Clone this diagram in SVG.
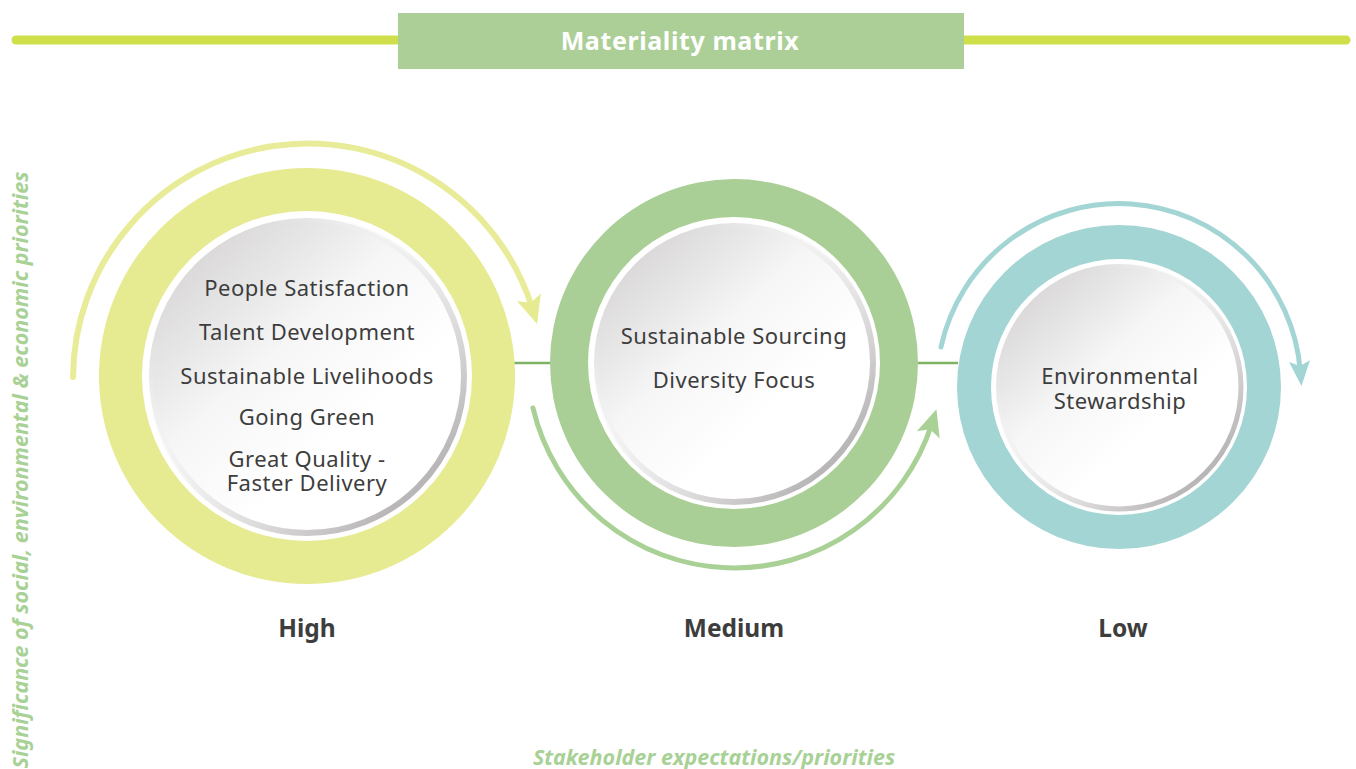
<svg xmlns="http://www.w3.org/2000/svg" width="1356" height="769" viewBox="0 0 1356 769">
<defs>
<style>
.item{font-family:"Noto Sans","Open Sans","Liberation Sans",sans-serif;font-size:22px;letter-spacing:0.5px;fill:#3d3d3d;text-anchor:middle}
.lvl{font-family:"Noto Sans","Open Sans","Liberation Sans",sans-serif;font-size:24.5px;font-weight:bold;fill:#3d3d3d;text-anchor:middle}
.axis{font-family:"Noto Sans","Open Sans","Liberation Sans",sans-serif;font-size:21.5px;font-weight:bold;font-style:italic;fill:#a8d196;text-anchor:middle}
.arc{fill:none}
.link{stroke:#7db363;stroke-width:2.5}
</style>
<linearGradient id="disk" x1="0.15" y1="0.1" x2="0.65" y2="0.65">
<stop offset="0" stop-color="#d9d7d8"/>
<stop offset="0.55" stop-color="#f6f6f6"/>
<stop offset="1" stop-color="#ffffff"/>
</linearGradient>
<linearGradient id="rim" x1="0.2" y1="0.2" x2="0.85" y2="0.85">
<stop offset="0" stop-color="#ffffff" stop-opacity="0"/>
<stop offset="0.5" stop-color="#e2e0e1" stop-opacity="0.6"/>
<stop offset="1" stop-color="#b9b6b7"/>
</linearGradient>
<marker id="ahY" markerUnits="userSpaceOnUse" viewBox="-14 -14 32 28" markerWidth="32" markerHeight="28" refX="0" refY="0" orient="auto">
<path d="M16,0 L-12,-12.5 L-6,0 L-12,12.5 Z" fill="#e6eb91"/>
</marker>
<marker id="ahG" markerUnits="userSpaceOnUse" viewBox="-14 -14 32 28" markerWidth="32" markerHeight="28" refX="0" refY="0" orient="auto">
<path d="M15,0 L-12,-12 L-6,0 L-12,12 Z" fill="#a9d095"/>
</marker>
<marker id="ahT" markerUnits="userSpaceOnUse" viewBox="-14 -14 32 28" markerWidth="32" markerHeight="28" refX="0" refY="0" orient="auto">
<path d="M15,0 L-10,-10.5 L-5,0 L-10,10.5 Z" fill="#a3d5d4"/>
</marker>
</defs>
<rect width="1356" height="769" fill="#ffffff"/>

<g id="title">
<line x1="16" y1="40" x2="1346" y2="40" stroke="#cfdf4a" stroke-width="9" stroke-linecap="round"/>
<rect x="398" y="13" width="566" height="56" fill="#abcf97"/>
<text x="680" y="50" font-family="'Noto Sans','Open Sans','Liberation Sans',sans-serif" font-size="25" letter-spacing="0.6" font-weight="bold" fill="#ffffff" text-anchor="middle">Materiality matrix</text>
</g>

<g id="connectors">
<line class="link" x1="514" y1="363" x2="552" y2="363"/>
<line class="link" x1="917" y1="363" x2="958" y2="363"/>
<path class="arc" d="M73,377 A235,235 0 0 1 532.4,308.7" stroke="#e8ec98" stroke-width="6" stroke-linecap="round" marker-end="url(#ahY)"/>
<path class="arc" d="M533,408 A207,207 0 0 0 931.9,423.5" stroke="#a9d095" stroke-width="5" stroke-linecap="round" marker-end="url(#ahG)"/>
<path class="arc" d="M941,347 A182,182 0 0 1 1300.3,371.1" stroke="#a3d5d4" stroke-width="5" stroke-linecap="round" marker-end="url(#ahT)"/>
</g>

<g id="node-high">
<circle cx="307" cy="376" r="208" fill="#e6eb91"/>
<circle cx="307" cy="376" r="165" fill="#ffffff"/>
<circle cx="307" cy="376" r="158" fill="url(#disk)"/>
<circle cx="307" cy="376" r="157" fill="none" stroke="url(#rim)" stroke-width="6"/>
<text class="item" x="307" y="296">People Satisfaction</text>
<text class="item" x="307" y="340">Talent Development</text>
<text class="item" x="307" y="384">Sustainable Livelihoods</text>
<text class="item" x="307" y="425">Going Green</text>
<text class="item" x="307" y="467">Great Quality -<tspan x="307" dy="24">Faster Delivery</tspan></text>
<text class="lvl" x="307" y="637">High</text>
</g>

<g id="node-medium">
<circle cx="734" cy="363" r="184" fill="#aacf96"/>
<circle cx="734" cy="363" r="146" fill="#ffffff"/>
<circle cx="734" cy="363" r="140" fill="url(#disk)"/>
<circle cx="734" cy="363" r="139" fill="none" stroke="url(#rim)" stroke-width="6"/>
<text class="item" x="734" y="344">Sustainable Sourcing</text>
<text class="item" x="734" y="388">Diversity Focus</text>
<text class="lvl" x="734" y="637">Medium</text>
</g>

<g id="node-low">
<circle cx="1119" cy="387" r="162" fill="#a3d5d4"/>
<circle cx="1119" cy="387" r="128" fill="#ffffff"/>
<circle cx="1119" cy="387" r="123" fill="url(#disk)"/>
<circle cx="1119" cy="387" r="122" fill="none" stroke="url(#rim)" stroke-width="5"/>
<text class="item" x="1120" y="384">Environmental<tspan x="1120" dy="25">Stewardship</tspan></text>
<text class="lvl" x="1123" y="637">Low</text>
</g>

<g id="axes">
<text class="axis" transform="translate(28,470) rotate(-90)">Significance of social, environmental &amp; economic priorities</text>
<text class="axis" x="714" y="765">Stakeholder expectations/priorities</text>
</g>
</svg>
